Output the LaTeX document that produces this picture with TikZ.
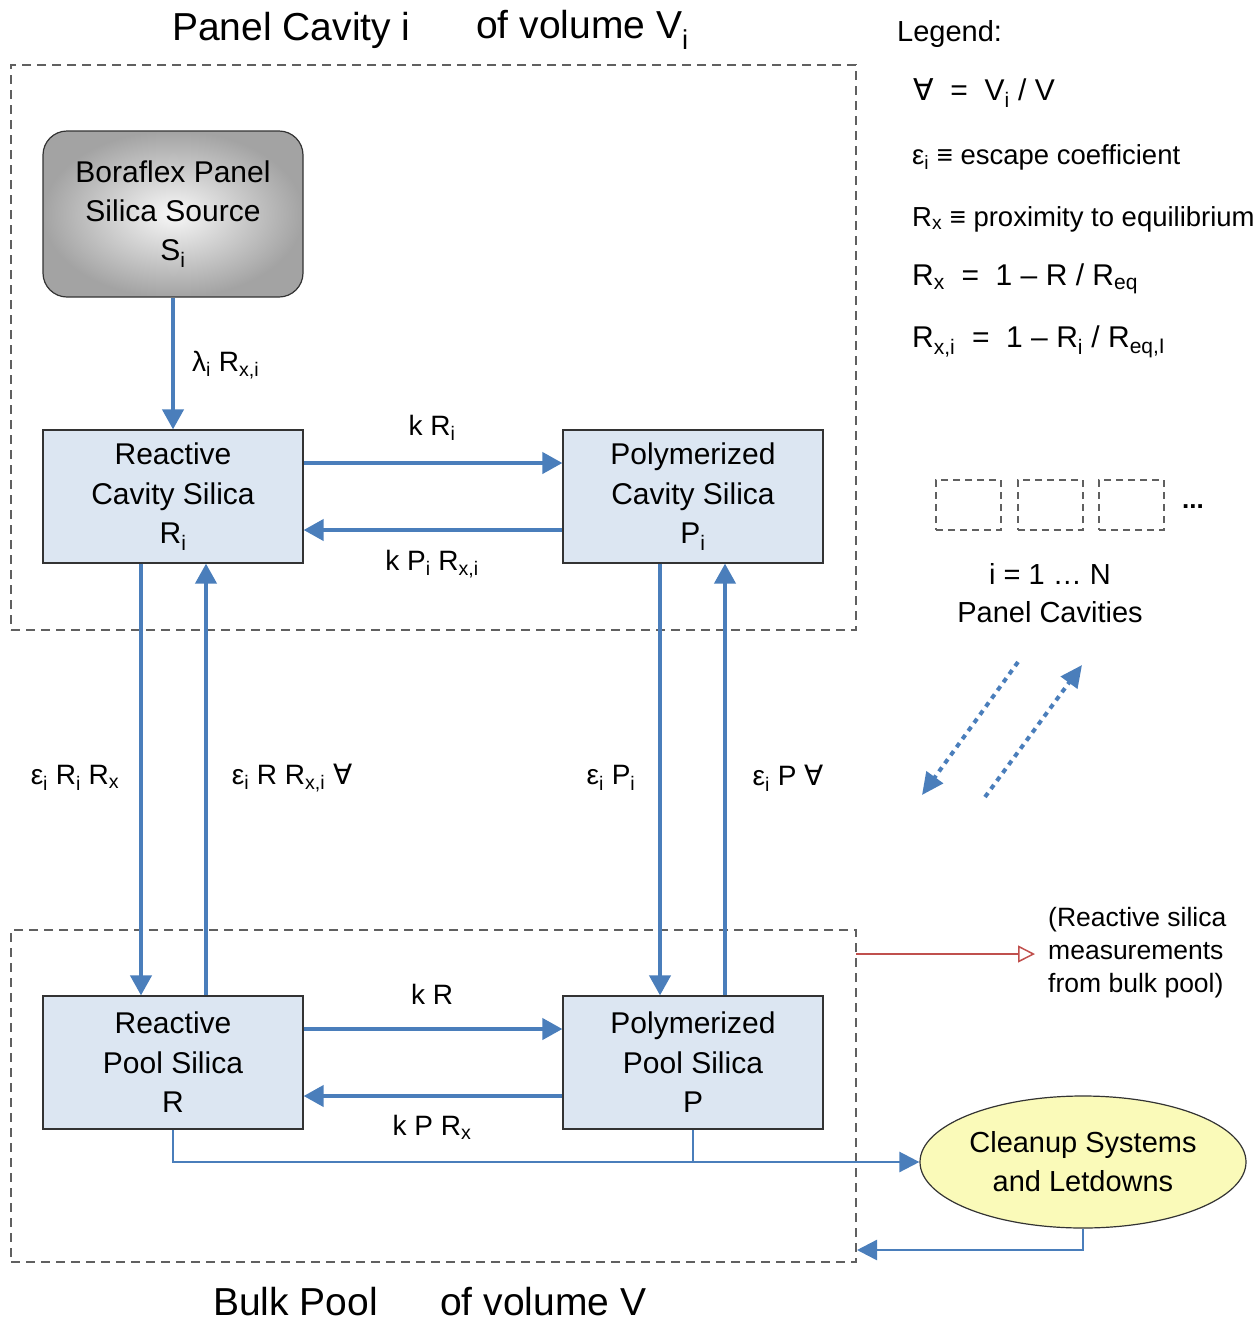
\documentclass[tikz,border=0pt]{standalone}
\usepackage{fontspec}
\setmainfont{Liberation Sans}
\newfontfamily\djv{DejaVu Sans}
\usetikzlibrary{arrows.meta,shapes.geometric}
\definecolor{arrblue}{HTML}{4A7EBB}
\definecolor{boxblue}{HTML}{DCE6F2}
\definecolor{dashgray}{HTML}{606060}
\definecolor{redline}{HTML}{C0504D}
\definecolor{ellfill}{HTML}{FAFAB9}
\newcommand\sbs[1]{\textsubscript{#1}}
\newcommand\fa{{\djv ∀}}
\begin{document}
\begin{tikzpicture}[x=1pt,y=-1pt,
  region/.style={draw=dashgray, line width=2pt, dash pattern=on 9pt off 6pt, minimum width=845pt, inner sep=0pt},
  compbox/.style={draw=black!80, fill=boxblue, line width=1.2pt, minimum width=260pt, minimum height=133pt, align=center, inner sep=0pt, font=\fontsize{30}{39.5}\selectfont},
  srcbox/.style={draw=black!80, line width=1.2pt, rounded corners=24pt, minimum width=260pt, minimum height=166pt, align=center, inner sep=0pt, inner color=white!97!black, outer color=black!36, font=\fontsize{30}{39}\selectfont},
  flow/.style={draw=arrblue, line width=4pt, -{Triangle[width=21pt,length=20pt]}},
  thinflow/.style={draw=arrblue, line width=2.5pt},
  lbl/.style={font=\fontsize{28}{30}\selectfont, inner sep=0pt},
  legsmall/.style={font=\fontsize{27.5}{30}\selectfont, inner sep=0pt, anchor=west},
  legbig/.style={font=\fontsize{30}{32}\selectfont, inner sep=0pt, anchor=west},
  title/.style={font=\fontsize{39}{42}\selectfont, inner sep=0pt, anchor=west},
  minibox/.style={draw=dashgray, line width=2pt, dash pattern=on 7pt off 5pt, minimum width=65pt, minimum height=50pt, inner sep=0pt},
  dflow/.style={draw=arrblue, line width=4pt, dash pattern=on 5pt off 5pt, -{Triangle[width=20pt,length=22pt]}}
]
\useasboundingbox (0,0) rectangle (1253,1323);

% regions
\node[region, minimum height=565pt] (cav) at (433.5,347.5) {};
\node[region, minimum height=332pt] (bulk) at (433.5,1096) {};

% titles
\node[title] (t1) at (172,30) {Panel Cavity i};
\node[title] (t2) at (476,30) {of volume V\sbs{i}};
\node[title] (b1) at (213,1302) {Bulk Pool};
\node[title] (b2) at (440,1302) {of volume V};

% components
\node[srcbox] (src) at (173,214) {Boraflex Panel\\Silica Source\\S\sbs{i}};
\node[compbox] (rc) at (173,496.5) {Reactive\\Cavity Silica\\R\sbs{i}};
\node[compbox] (pc) at (693,496.5) {Polymerized\\Cavity Silica\\P\sbs{i}};
\node[compbox] (rp) at (173,1062.5) {Reactive\\Pool Silica\\R};
\node[compbox] (pp) at (693,1062.5) {Polymerized\\Pool Silica\\P};
\node[ellipse, draw=black!80, fill=ellfill, line width=1.2pt, minimum width=326pt, minimum height=132pt, inner sep=0pt, align=center, font=\fontsize{29}{39}\selectfont] (cl) at (1083,1162) {Cleanup Systems\\and Letdowns};

% flows
\draw[flow] (src.south) -- (rc.north);
\node[lbl, anchor=west] (l0) at (192,365) {λ\sbs{i} R\sbs{x,i}};
\draw[flow] ([yshift=33.5pt]rc.east) -- ([yshift=33.5pt]pc.west);
\node[lbl] (l1) at (432,428) {k R\sbs{i}};
\draw[flow] ([yshift=-33.5pt]pc.west) -- ([yshift=-33.5pt]rc.east);
\node[lbl] (l2) at (432,564) {k P\sbs{i} R\sbs{x,i}};

\draw[flow] ([xshift=-32pt]rc.south) -- ([xshift=-32pt]rp.north);
\draw[flow] ([xshift=33pt]rp.north) -- ([xshift=33pt]rc.south);
\draw[flow] ([xshift=-33pt]pc.south) -- ([xshift=-33pt]pp.north);
\draw[flow] ([xshift=32pt]pp.north) -- ([xshift=32pt]pc.south);
\node[lbl] (l3) at (75,778) {ε\sbs{i} R\sbs{i} R\sbs{x}};
\node[lbl] (l4) at (292,778) {ε\sbs{i} R R\sbs{x,i} \fa};
\node[lbl] (l5) at (611,778) {ε\sbs{i} P\sbs{i}};
\node[lbl] (l6) at (788,778) {ε\sbs{i} P \fa};

\draw[flow] ([yshift=33.5pt]rp.east) -- ([yshift=33.5pt]pp.west);
\node[lbl] (l7) at (432,994) {k R};
\draw[flow] ([yshift=-33.5pt]pp.west) -- ([yshift=-33.5pt]rp.east);
\node[lbl] (l8) at (432,1127) {k P R\sbs{x}};

% cleanup
\draw[thinflow, -{Triangle[width=20pt,length=20pt]}] (rp.south) |- (cl.west);
\draw[thinflow] (pp.south) -- (pp.south |- cl.west);
\coordinate (ret) at (857,1250);
\draw[thinflow, -{Triangle[width=20pt,length=20pt]}] (cl.south) |- (ret);

% measurement
\coordinate (meas) at (856,954);
\node[font=\fontsize{26.5}{33}\selectfont, align=left, anchor=west, inner sep=0pt] (mt) at (1048,953) {(Reactive silica\\measurements\\from bulk pool)};
\draw[draw=redline, line width=1.5pt, -{Triangle[open,width=17pt,length=17pt]}] (meas) -- ([xshift=-13pt]mt.west |- meas);

% legend
\node[legbig, font=\fontsize{29}{32}\selectfont] (lg) at (897,34) {Legend:};
\node[legbig] (lg1) at (913,93) {\fa{} ~=~ V\sbs{i} / V};
\node[legsmall] (lg2) at (912,157) {ε\sbs{i} {\bfseries ≡} escape coefficient};
\node[legsmall] (lg3) at (912,219) {R\sbs{x} {\bfseries ≡} proximity to equilibrium};
\node[legbig] (lg4) at (912,279) {R\sbs{x} ~=~ 1 – R / R\sbs{eq}};
\node[legbig] (lg5) at (912,342) {R\sbs{x,i} ~=~ 1 – R\sbs{i} / R\sbs{eq,I}};

% panel cavities
\node[minibox] (m1) at (968.5,505) {};
\node[minibox] (m2) at (1050,505) {};
\node[minibox] (m3) at (1131.5,505) {};
\node[lbl, anchor=west, font=\bfseries\fontsize{26}{30}\selectfont] (dots) at (1182,507) {...};
\node[lbl, font=\fontsize{29}{38}\selectfont, align=center] (pcv) at (1050,593) {i = 1 … N\\Panel Cavities};
\coordinate (d1s) at (1018,662);
\coordinate (d1e) at (922,795);
\coordinate (d2s) at (985,797);
\coordinate (d2e) at (1082,665);
\draw[dflow] (d1s) -- (d1e);
\draw[dflow] (d2s) -- (d2e);
\end{tikzpicture}
\end{document}
